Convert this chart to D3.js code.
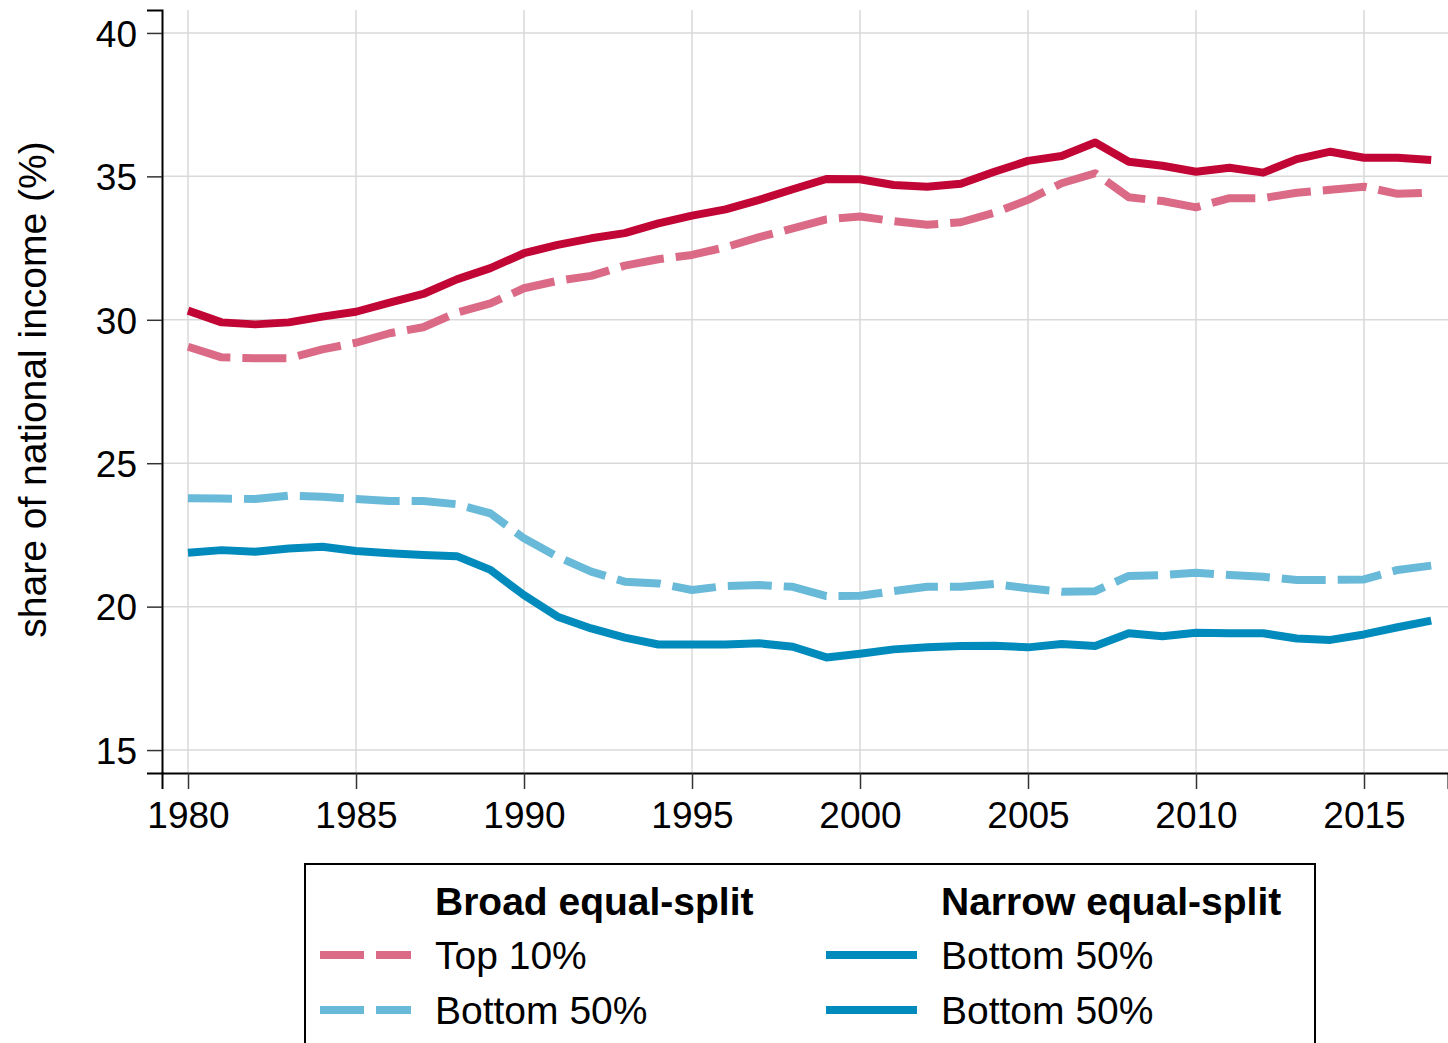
<!DOCTYPE html>
<html>
<head>
<meta charset="utf-8">
<script src="https://cdn.jsdelivr.net/npm/d3@7"></script>
<style>
  body { margin: 0; background: #fff; }
  svg { display: block; font-family: "Liberation Sans", Arial, Helvetica, sans-serif; }
</style>
</head>
<body>
<svg width="1448" height="1043"></svg>
<script>
const years = d3.range(1980, 2018);

// narrow equal-split, top 10% (solid dark red)
const narrowTop10 = [30.32, 29.91, 29.84, 29.91, 30.11, 30.28, 30.60, 30.90, 31.41, 31.80,
  32.32, 32.61, 32.84, 33.02, 33.36, 33.63, 33.85, 34.18, 34.55, 34.91,
  34.90, 34.70, 34.64, 34.74, 35.16, 35.54, 35.71, 36.18, 35.51, 35.37,
  35.16, 35.30, 35.13, 35.60, 35.86, 35.65, 35.65, 35.57];

// broad equal-split, top 10% (dashed pink)
const broadTop10 = [29.06, 28.69, 28.66, 28.66, 28.97, 29.20, 29.53, 29.74, 30.25, 30.57,
  31.10, 31.36, 31.53, 31.89, 32.11, 32.26, 32.53, 32.88, 33.19, 33.50,
  33.60, 33.44, 33.31, 33.40, 33.73, 34.18, 34.76, 35.11, 34.27, 34.14,
  33.92, 34.24, 34.24, 34.43, 34.53, 34.64, 34.39, 34.43];

// broad equal-split, bottom 50% (dashed light blue)
const broadBottom50 = [23.78, 23.77, 23.75, 23.87, 23.83, 23.75, 23.68, 23.68, 23.57, 23.25,
  22.38, 21.74, 21.22, 20.87, 20.81, 20.58, 20.72, 20.75, 20.69, 20.37,
  20.38, 20.54, 20.69, 20.69, 20.79, 20.64, 20.52, 20.54, 21.07, 21.10,
  21.18, 21.10, 21.04, 20.93, 20.93, 20.95, 21.28, 21.43];

// narrow equal-split, bottom 50% (solid dark blue)
const narrowBottom50 = [21.88, 21.97, 21.91, 22.03, 22.09, 21.94, 21.86, 21.80, 21.76, 21.28,
  20.40, 19.65, 19.24, 18.92, 18.68, 18.68, 18.68, 18.72, 18.60, 18.23,
  18.36, 18.51, 18.58, 18.63, 18.64, 18.58, 18.70, 18.63, 19.07, 18.97,
  19.09, 19.07, 19.07, 18.89, 18.84, 19.03, 19.28, 19.51];

const xTicks = [1980, 1985, 1990, 1995, 2000, 2005, 2010, 2015];
const yTicks = [15, 20, 25, 30, 35, 40];

const series = [
  {name: "broadTop10", values: broadTop10, color: "#db6a87", dash: "44,12"},
  {name: "broadBottom50", values: broadBottom50, color: "#69b9d8", dash: "44,12"},
  {name: "narrowTop10", values: narrowTop10, color: "#c10535", dash: null},
  {name: "narrowBottom50", values: narrowBottom50, color: "#008bbc", dash: null}
];

const legendCols = [
  {title: "Broad equal-split", x: 320, items: [
    {label: "Top 10%", color: "#db6a87", dash: "44,12"},
    {label: "Bottom 50%", color: "#69b9d8", dash: "44,12"}]},
  {title: "Narrow equal-split", x: 826, items: [
    {label: "Bottom 50%", color: "#008bbc", dash: null},
    {label: "Bottom 50%", color: "#008bbc", dash: null}]}
];

const svg = d3.select("svg");
const plotLeft = 162, plotRight = 1448, plotTop = 10, plotBottom = 773;

const x = d3.scaleLinear().domain([1979.226, 2017.5]).range([plotLeft, plotRight]);
const y = d3.scaleLinear().domain([14.2, 40.8]).range([plotBottom, plotTop]);

// grid
svg.append("g")
  .selectAll("line")
  .data(yTicks)
  .join("line")
    .attr("x1", plotLeft).attr("x2", plotRight)
    .attr("y1", d => y(d)).attr("y2", d => y(d))
    .attr("stroke", "#d9d9d9").attr("stroke-width", 1.5);

svg.append("g")
  .selectAll("line")
  .data(xTicks)
  .join("line")
    .attr("x1", d => x(d)).attr("x2", d => x(d))
    .attr("y1", plotTop).attr("y2", plotBottom)
    .attr("stroke", "#d9d9d9").attr("stroke-width", 1.5);

// axes
const yAxis = svg.append("g")
    .attr("transform", `translate(${plotLeft},0)`)
    .call(d3.axisLeft(y).tickValues(yTicks).tickSize(15).tickPadding(10));
const xAxis = svg.append("g")
    .attr("transform", `translate(0,${plotBottom})`)
    .call(d3.axisBottom(x).tickValues(xTicks).tickFormat(d3.format("d")).tickSize(16).tickPadding(13));

[yAxis, xAxis].forEach(a => {
  a.select(".domain").attr("stroke", "#000").attr("stroke-width", 2);
  a.selectAll(".tick line").attr("stroke", "#333").attr("stroke-width", 1.5);
  a.selectAll(".tick text").attr("font-size", 37).attr("fill", "#000")
    .attr("font-family", "'Liberation Sans', Arial, sans-serif");
});
yAxis.selectAll(".tick text").attr("dy", "0.36em");

svg.append("text")
    .attr("transform", `translate(46,${(plotTop + plotBottom) / 2 - 2}) rotate(-90)`)
    .attr("text-anchor", "middle")
    .attr("font-size", 39)
    .text("share of national income (%)");

// lines
const line = d3.line()
    .x((d, i) => x(years[i]))
    .y(d => y(d));

svg.append("g")
  .selectAll("path")
  .data(series)
  .join("path")
    .attr("d", d => line(d.values))
    .attr("fill", "none")
    .attr("stroke", d => d.color)
    .attr("stroke-width", 8)
    .attr("stroke-dasharray", d => d.dash)
    .attr("stroke-linejoin", "round");

// legend
svg.append("rect")
    .attr("x", 305).attr("y", 864)
    .attr("width", 1010).attr("height", 300)
    .attr("fill", "#fff").attr("stroke", "#000").attr("stroke-width", 2);

legendCols.forEach(col => {
  const g = svg.append("g");
  g.append("text")
      .attr("x", col.x + 115).attr("y", 915)
      .attr("font-size", 39).attr("font-weight", "bold")
      .text(col.title);
  col.items.forEach((it, i) => {
    const ly = 955 + i * 55;
    g.append("line")
        .attr("x1", col.x).attr("x2", col.x + 91)
        .attr("y1", ly).attr("y2", ly)
        .attr("stroke", it.color).attr("stroke-width", 8)
        .attr("stroke-dasharray", it.dash);
    g.append("text")
        .attr("x", col.x + 115).attr("y", ly + 14)
        .attr("font-size", 39)
        .text(it.label);
  });
});
</script>
</body>
</html>
